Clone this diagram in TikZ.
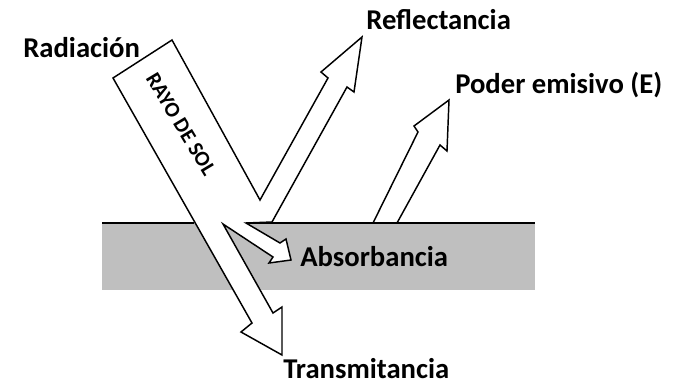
\documentclass[tikz,border=0pt]{standalone}
\usepackage{fontspec}
\setmainfont{Carlito}
\tikzset{
  lbl/.style={font=\bfseries\fontsize{21.5}{25}\selectfont, inner sep=0pt, anchor=west},
  beam/.style={draw, fill=white, line width=1.1pt, line join=miter},
  surf/.style={line width=2.2pt}
}

\begin{document}
\begin{tikzpicture}[x=0.75pt,y=-0.75pt]
			%%%%% START %%%%%
			\useasboundingbox (0,0) rectangle (675,386);
			
			\fill[black!25] (102,223) rectangle (535,290);
			
			\path[beam] (373,223) -- (418,132) -- (414,126) -- (449,100) -- (447,151) -- (440,145) -- (397,223);
			
			\path[beam] (113,78) -- (172,40) -- (260,200) -- (328,78) -- (321,72) -- (362,37) -- (354,92) -- (347,87) -- (272,222) -- (246,223)
			 -- (280,243) -- (286,239) -- (291,260) -- (269,263) -- (273,257) -- (223,224)
			 -- (273,313) -- (282,307) -- (282,355) -- (241,332) -- (252,323) -- cycle;
			
			\draw[surf] (102,223) -- (194,223);
			\draw[surf] (246,223) -- (535,223);
			
			\node[font=\bfseries\fontsize{16}{19}\selectfont, inner sep=0pt, rotate=-59] (rayo) at (181,124) {RAYO DE SOL};
			
			\node[lbl] (rad) at (23,48) {Radiación};
			\node[lbl] (refl) at (366,20) {Reflectancia};
			\node[lbl] (poder) at (455,85) {Poder emisivo (E)};
			\node[lbl] (abs) at (300,257) {Absorbancia};
			\node[lbl] (trans) at (283,369) {Transmitancia};
			%%%%% END %%%%%
\end{tikzpicture}
\end{document}
